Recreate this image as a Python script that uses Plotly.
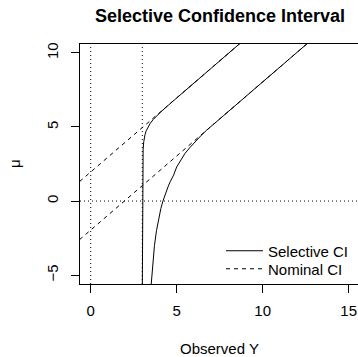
import plotly.graph_objects as go

# ---- data ----
# selective CI, upper bound (observed Y, mu)
upper_x = [3.000, 3.003, 3.008, 3.011, 3.017, 3.031, 3.049, 3.084, 3.114, 3.161, 3.228,
           3.327, 3.463, 3.634, 3.838, 4.062, 4.544, 5.040, 6.040, 7.040, 9.040]
upper_mu = [-6.0, -3.0, 0.0, 1.0, 2.0, 3.0, 3.5, 4.0, 4.25, 4.5, 4.75,
            5.0, 5.25, 5.5, 5.75, 6.0, 6.5, 7.0, 8.0, 9.0, 11.0]
# selective CI, lower bound
lower_x = [3.490, 3.550, 3.620, 3.707, 3.825, 3.980, 4.080, 4.200, 4.340, 4.510, 4.620,
           4.820, 5.000, 5.240, 5.480, 5.760, 6.060, 6.400, 6.740, 7.200, 7.700, 12.960]
lower_mu = [-6.0, -5.0, -4.0, -3.0, -2.0, -1.0, -0.5, 0.0, 0.5, 1.0, 1.3,
            1.75, 2.3, 2.8, 3.21, 3.6, 4.0, 4.4, 4.78, 5.22, 5.74, 11.0]
# nominal CI
nominal_y = [-1.0, 16.0]
nominal_lower = [-2.96, 14.04]
nominal_upper = [0.96, 17.96]
# reference lines
ref_vlines = [0, 3]
ref_hlines = [0]
x_ticks = [0, 5, 10, 15]
y_ticks = [-5, 0, 5, 10]

FONT = "Liberation Sans, Arial, Helvetica, sans-serif"

fig = go.Figure()

fig.add_trace(go.Scatter(x=nominal_y, y=nominal_lower, mode="lines",
                         line=dict(color="black", width=1, dash="4px,4px"),
                         name="Nominal CI", showlegend=True, legend="legend2"))
fig.add_trace(go.Scatter(x=nominal_y, y=nominal_upper, mode="lines",
                         line=dict(color="black", width=1, dash="4px,4px"),
                         name="Nominal CI", showlegend=False))
fig.add_trace(go.Scatter(x=upper_x, y=upper_mu, mode="lines",
                         line=dict(color="black", width=1),
                         name="Selective CI", showlegend=True, legend="legend"))
fig.add_trace(go.Scatter(x=lower_x, y=lower_mu, mode="lines",
                         line=dict(color="black", width=1),
                         name="Selective CI", showlegend=False))

for v in ref_vlines:
    fig.add_shape(type="line", xref="x", yref="paper", x0=v, x1=v, y0=0, y1=1,
                  line=dict(color="black", width=1, dash="1px,3px"), layer="below")
for h in ref_hlines:
    fig.add_shape(type="line", xref="paper", yref="y", x0=0, x1=1, y0=h, y1=h,
                  line=dict(color="black", width=1, dash="1px,3px"), layer="below")

legend_common = dict(xanchor="left", yanchor="top", bgcolor="rgba(0,0,0,0)",
                     borderwidth=0, itemwidth=37, font=dict(size=15))

fig.update_layout(
    width=358, height=357,
    margin=dict(l=80, r=0, t=44, b=73, autoexpand=False),
    paper_bgcolor="white", plot_bgcolor="white",
    font=dict(family=FONT, size=15, color="black"),
    showlegend=True,
    legend=dict(x=(221 - 80) / 278, y=(284 - 234.5) / 240, **legend_common),
    legend2=dict(x=(221 - 80) / 278, y=(284 - 252.5) / 240, **legend_common),
    xaxis=dict(range=[-0.622, 15.541], tickvals=x_ticks, showgrid=False, zeroline=False,
               showline=True, linecolor="black", linewidth=1, mirror=True,
               ticks="outside", ticklen=8, tickcolor="black", tickwidth=1,
               ticklabelstandoff=5, tickfont=dict(size=15)),
    yaxis=dict(range=[-5.6, 10.6], tickvals=y_ticks, showgrid=False, zeroline=False,
               showline=True, linecolor="black", linewidth=1, mirror=False,
               ticks="outside", ticklen=8, tickcolor="black", tickwidth=1,
               ticklabelstandoff=7, tickangle=-90, tickfont=dict(size=15)),
    annotations=[
        dict(text="<b>Selective Confidence Interval</b>", xref="paper", yref="paper",
             x=0.502, y=(284 - 16.4) / 240, xanchor="center", yanchor="middle",
             showarrow=False, font=dict(size=18)),
        dict(text="Observed Y", xref="paper", yref="paper",
             x=0.5, y=(284 - 348.8) / 240, xanchor="center", yanchor="middle",
             showarrow=False, font=dict(size=15)),
        dict(text="μ", xref="paper", yref="paper",
             x=(14 - 80) / 278, y=0.5, xanchor="center", yanchor="middle",
             textangle=-90, showarrow=False, font=dict(size=15)),
    ],
)

fig.write_html("out.html")
